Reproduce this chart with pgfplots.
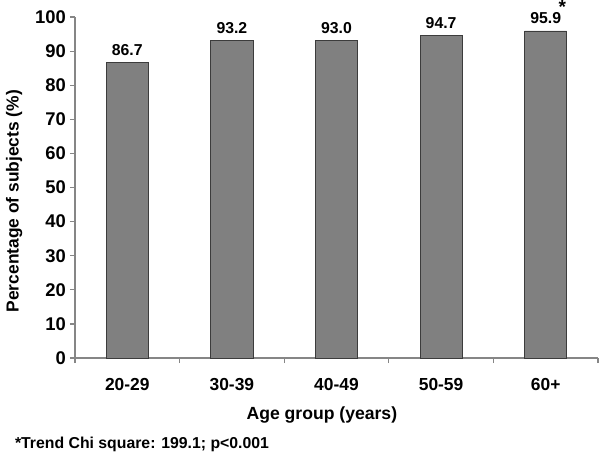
\documentclass[border=0pt]{standalone}
\usepackage{fontspec}
\setmainfont{Liberation Sans}
\usepackage{pgfplots}
\pgfplotsset{compat=1.18}
\definecolor{axisgray}{RGB}{134,134,134}
\definecolor{barfill}{RGB}{128,128,128}
\definecolor{baredge}{RGB}{60,60,60}
\begin{document}
\begin{tikzpicture}
\useasboundingbox (-37.5pt,-47pt) rectangle (262.5pt,179pt);
\begin{axis}[
  at={(0pt,0pt)}, anchor=south west,
  scale only axis, width=261.5pt, height=170.5pt,
  xmin=-0.5, xmax=4.5, ymin=0, ymax=100,
  axis lines*=left,
  axis line style={axisgray, line width=0.6pt},
  ybar, bar width=21pt,
  ytick={0,10,...,100},
  xtick={0,1,2,3,4},
  xticklabels={20-29,30-39,40-49,50-59,60+},
  minor xtick={-0.5,0.5,1.5,2.5,3.5,4.5},
  tick align=outside,
  major tick length=2.5pt, minor tick length=2.5pt,
  major x tick style={draw=none},
  minor x tick style={axisgray, line width=0.6pt},
  y tick style={axisgray, line width=0.6pt},
  /pgf/number format/assume math mode=true,
  yticklabel style={font=\fontsize{9.2}{10}\selectfont\bfseries, xshift=1.5pt},
  xticklabel style={font=\fontsize{8.7}{10}\selectfont\bfseries, yshift=-4pt},
  xlabel={Age group (years)},
  ylabel={Percentage of subjects (\%)},
  xlabel style={at={(axis description cs:0.472,-0.1818)}, anchor=base, font=\fontsize{8.8}{10}\selectfont\bfseries},
  ylabel style={at={(axis description cs:-0.108,0.46)}, anchor=base, font=\fontsize{8.7}{10}\selectfont\bfseries},
  clip=false,
]
\addplot[fill=barfill, draw=baredge, line width=0.4pt,
  nodes near coords={\pgfmathprintnumber[fixed,fixed zerofill,precision=1,assume math mode=true]{\pgfplotspointmeta}},
  nodes near coords style={font=\fontsize{7.9}{9}\selectfont\bfseries, anchor=base, yshift=3.5pt, black},
  point meta=y]
  coordinates {(0,86.7) (1,93.2) (2,93.0) (3,94.7) (4,95.9)};
\node[anchor=base, inner sep=0pt, yshift=8.5pt, font=\fontsize{9.5}{10}\selectfont\bfseries] at (axis cs:4.16,95.9) {*};
\end{axis}
\node[anchor=base west, font=\fontsize{7.9}{9}\selectfont\bfseries] at (-33.5pt,-45pt) {*Trend Chi square: 199.1; p<0.001};
\end{tikzpicture}
\end{document}
